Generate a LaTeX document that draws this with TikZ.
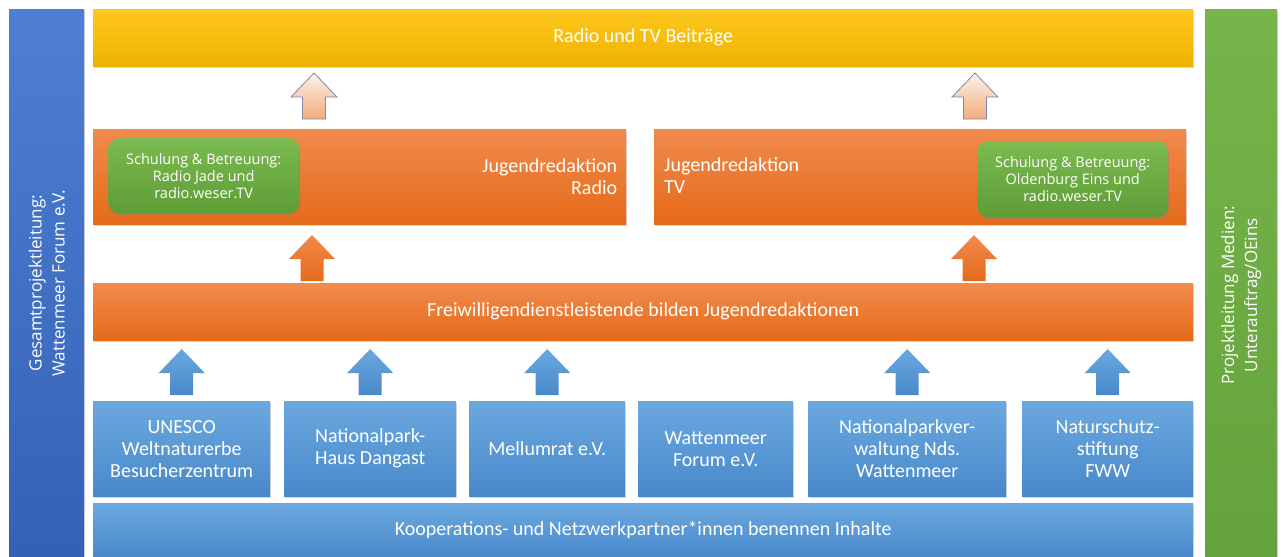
\documentclass[tikz,border=0pt]{standalone}
\usepackage{fontspec}
\setmainfont{Carlito}
\newfontfamily\sidefamily{Open Sans}
\usetikzlibrary{shadows}
\definecolor{leadtop}{HTML}{4E7FD2}
\definecolor{leadbot}{HTML}{3461B6}
\definecolor{medtop}{HTML}{77B44C}
\definecolor{medbot}{HTML}{64A23B}
\definecolor{goldtop}{HTML}{FFC81E}
\definecolor{goldbot}{HTML}{EEB300}
\definecolor{orgtop}{HTML}{F18B4C}
\definecolor{orgbot}{HTML}{E56A1A}
\definecolor{bluetop}{HTML}{6BA8DF}
\definecolor{bluebot}{HTML}{4889CA}
\definecolor{leaftop}{HTML}{7CBB50}
\definecolor{leafbot}{HTML}{5E9C36}
\definecolor{peachtop}{HTML}{FDF2EA}
\definecolor{peachbot}{HTML}{F3AC7C}
\definecolor{slate}{HTML}{7A8CA8}
\newcommand\txtmain{\fontsize{20}{22}\selectfont}
\newcommand\txtcoach{\sidefamily\fontsize{14.5}{17}\selectfont}
\newcommand\txtside{\sidefamily\fontsize{17}{23}\selectfont}

\begin{document}
\begin{tikzpicture}[
  x=1pt, y=-1pt,
  box/.style={anchor=north west, inner sep=0pt, text=white, align=center, font=\txtmain,
    drop shadow={shadow xshift=.6pt, shadow yshift=-1.6pt, opacity=.3}},
  goldbox/.style={box, top color=goldtop, bottom color=goldbot},
  orangebox/.style={box, top color=orgtop, bottom color=orgbot},
  bluebox/.style={box, top color=bluetop, bottom color=bluebot},
  wide/.style={minimum width=1100pt, minimum height=57pt},
  coach/.style={anchor=north west, rounded corners=11pt, inner sep=0pt, text=white, align=center,
    font=\txtcoach, top color=leaftop, bottom color=leafbot,
    drop shadow={shadow xshift=1pt, shadow yshift=-2pt, opacity=.45}},
  lab/.style={text=white, font=\txtmain, inner sep=0pt},
  sidetext/.style={rotate=90, text=white, align=center, font=\txtside},
  peach/.style={top color=peachtop, bottom color=peachbot, draw=slate, line width=.8pt},
  orangearr/.style={top color=orgtop, bottom color=orgbot},
  bluearr/.style={top color=bluetop, bottom color=bluebot},
  uparrow/.pic={
    \path[#1] (-11.5,0) -- (-11.5,-22) -- (-23,-22) -- (0,-46) -- (23,-22) -- (11.5,-22) -- (11.5,0) -- cycle;
  }
]
\useasboundingbox (0,0) rectangle (1283,557);
% side bars
\node[box, top color=leadtop, bottom color=leadbot, minimum width=75pt, minimum height=548pt] (lead) at (9,9) {};
\node[sidetext] (leadtxt) at (lead.center) {Gesamtprojektleitung:\\Wattenmeer Forum e.V.};
\node[box, top color=medtop, bottom color=medbot, minimum width=72pt, minimum height=548pt] (media) at (1205,9) {};
\node[sidetext] (mediatxt) at ([yshift=-12pt]media.center) {Projektleitung Medien:\\Unterauftrag/OEins};
% output
\node[goldbox, wide] (radiotv) at (93,9) {Radio und TV Beiträge};
\pic at (314,119) {uparrow=peach};
\pic at (975,119) {uparrow=peach};
% youth newsrooms
\node[orangebox, minimum width=533pt, minimum height=95pt] (radio) at (93,129) {};
\node[lab, align=right, anchor=east] (radiotxt) at ([xshift=-9pt]radio.east) {Jugendredaktion\\Radio};
\node[orangebox, minimum width=532pt, minimum height=95pt] (tv) at (654,129) {};
\node[lab, align=left, anchor=west] (tvtxt) at ([xshift=10pt,yshift=1pt]tv.west) {Jugendredaktion\\TV};
\node[coach, minimum width=191pt, minimum height=75pt] (coachradio) at (108,138) {Schulung \& Betreuung:\\Radio Jade und\\radio.weser.TV};
\node[coach, minimum width=191pt, minimum height=76pt] (coachtv) at (977,141) {Schulung \& Betreuung:\\Oldenburg Eins und\\radio.weser.TV};
\pic at (312,281) {uparrow=orangearr};
\pic at (974,281) {uparrow=orangearr};
% volunteers
\node[orangebox, wide] (fwd) at (93,283) {Freiwilligendienstleistende bilden Jugendredaktionen};
% partners
\foreach \n/\xa/\w/\txt in {1/93/177/{UNESCO\\Weltnaturerbe\\Besucherzentrum},
    2/284/172/{Nationalpark-\\Haus Dangast}, 3/469/156/{Mellumrat e.V.},
    4/638/155/{Wattenmeer\\Forum e.V.}, 5/808/198/{Nationalparkver-\\waltung Nds.\\Wattenmeer},
    6/1022/171/{Naturschutz-\\stiftung\\FWW}} {
  \node[bluebox, minimum width=\w pt, minimum height=95pt] (p\n) at (\xa,401) {\txt};
}
\foreach \n in {1,2,3,5,6} {
  \pic at ([yshift=6pt]p\n.north) {uparrow=bluearr};
}
\node[bluebox, minimum width=1100pt, minimum height=54pt] (net) at (93,503) {Kooperations- und Netzwerkpartner*innen benennen Inhalte};
\end{tikzpicture}
\end{document}
